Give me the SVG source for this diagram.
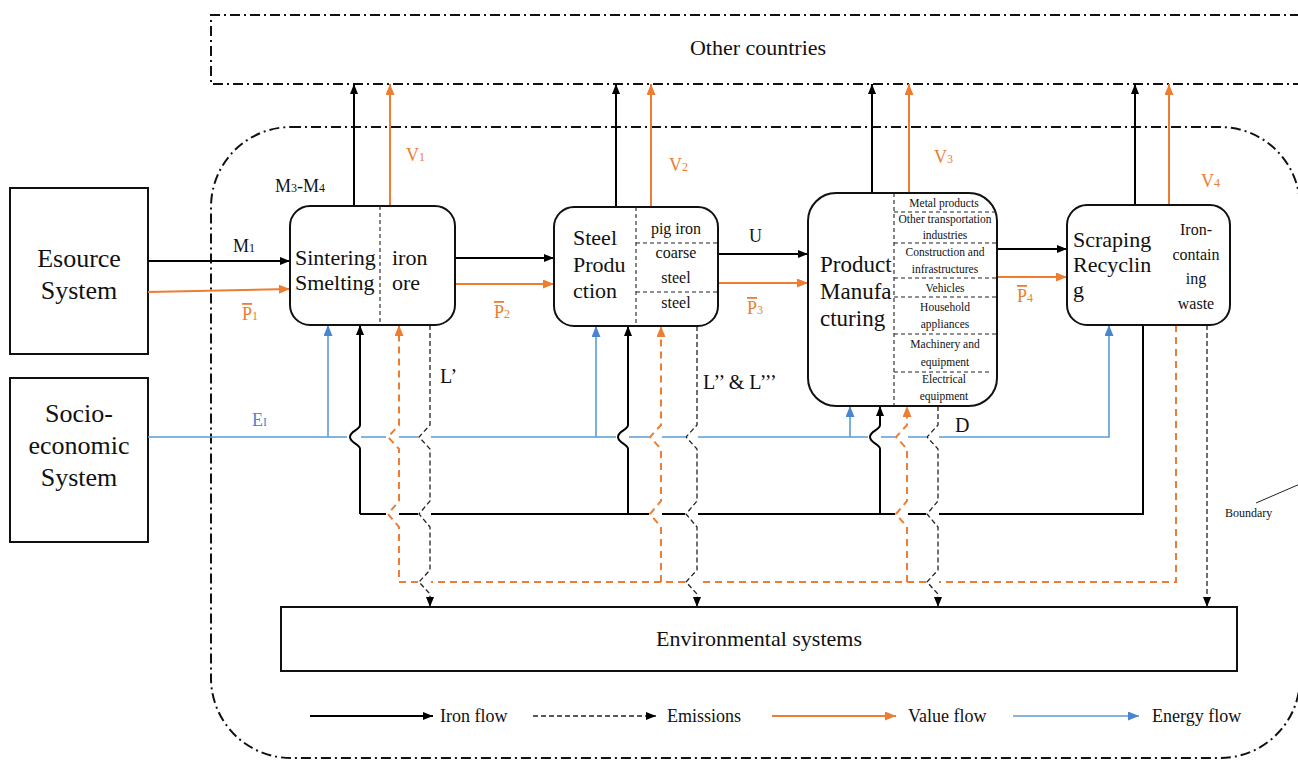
<svg xmlns="http://www.w3.org/2000/svg" width="1298" height="760" viewBox="0 0 1298 760" font-family="Liberation Serif, serif">
  <defs>
    <marker id="ah-k" markerWidth="10" markerHeight="8" refX="10" refY="4" orient="auto" markerUnits="userSpaceOnUse">
      <path d="M0,0 L10,4 L0,8 z" fill="#000"/>
    </marker>
    <marker id="ah-o" markerWidth="11" markerHeight="9" refX="11" refY="4.5" orient="auto" markerUnits="userSpaceOnUse">
      <path d="M0,0 L11,4.5 L0,9 z" fill="#ED7D31"/>
    </marker>
    <marker id="ah-b" markerWidth="11" markerHeight="9" refX="11" refY="4.5" orient="auto" markerUnits="userSpaceOnUse">
      <path d="M0,0 L11,4.5 L0,9 z" fill="#4A86D0"/>
    </marker>
    <style>
      .box { fill: #fff; stroke: #111; stroke-width: 2; }
      .div { fill: none; stroke: #222; stroke-width: 1.1; stroke-dasharray: 4,3; }
      .iron { fill: none; stroke: #000; stroke-width: 2; }
      .value { fill: none; stroke: #ED7D31; stroke-width: 2; }
      .valued { fill: none; stroke: #ED7D31; stroke-width: 2; stroke-dasharray: 7,5; }
      .emis { fill: none; stroke: #222; stroke-width: 1.3; stroke-dasharray: 5,3; }
      .energy { fill: none; stroke: #5B9BD5; stroke-width: 1.6; }
      .dashdot { fill: none; stroke: #111; stroke-width: 2; stroke-dasharray: 10,4,2,4; }
      .t26 { font: 26px "Liberation Serif", serif; fill: #111; }
      .t23 { font: 23px "Liberation Serif", serif; fill: #111; }
      .t22 { font: 22px "Liberation Serif", serif; fill: #111; }
      .t20 { font: 20px "Liberation Serif", serif; fill: #111; }
      .t18 { font: 18px "Liberation Serif", serif; fill: #111; }
      .t16 { font: 16px "Liberation Serif", serif; fill: #111; }
      .t12 { font: 12px "Liberation Serif", serif; fill: #111; }
      .t11 { font: 11.5px "Liberation Serif", serif; fill: #111; }
      .or { fill: #ED7D31; }
      .bl { fill: #4A86D0; }
      .ol { text-decoration: overline; }
    </style>
  </defs>

  <!-- system boundary -->
  <g id="boundary">
    <rect class="dashdot" x="211" y="127" width="1089" height="631" rx="80" ry="80"/>
    <line x1="1256" y1="503" x2="1300" y2="484" stroke="#222" stroke-width="1"/>
    <text class="t12" x="1225" y="517">Boundary</text>
  </g>

  <!-- other countries -->
  <g id="other-countries">
    <path class="dashdot" d="M1300,15 H211 V84 H1300"/>
    <text class="t22" x="758" y="55" text-anchor="middle">Other countries</text>
  </g>

  <!-- external systems -->
  <g id="esource-system">
    <rect class="box" x="10" y="188" width="138" height="166"/>
    <text class="t26" x="79" y="267" text-anchor="middle">Esource</text>
    <text class="t26" x="79" y="299" text-anchor="middle">System</text>
  </g>
  <g id="socio-economic-system">
    <rect class="box" x="10" y="378" width="138" height="164"/>
    <text class="t26" x="79" y="422" text-anchor="middle">Socio-</text>
    <text class="t26" x="79" y="454" text-anchor="middle">economic</text>
    <text class="t26" x="79" y="486" text-anchor="middle">System</text>
  </g>

  <!-- connectors -->
  <g id="connectors">
    <!-- exports to other countries -->
    <path class="iron" d="M354,206 V84" marker-end="url(#ah-k)"/>
    <path class="value" d="M390,206 V84" marker-end="url(#ah-o)"/>
    <path class="iron" d="M616,208 V84" marker-end="url(#ah-k)"/>
    <path class="value" d="M651,208 V84" marker-end="url(#ah-o)"/>
    <path class="iron" d="M872,194 V84" marker-end="url(#ah-k)"/>
    <path class="value" d="M909,194 V84" marker-end="url(#ah-o)"/>
    <path class="iron" d="M1135,206 V84" marker-end="url(#ah-k)"/>
    <path class="value" d="M1169,206 V84" marker-end="url(#ah-o)"/>

    <!-- main chain flows -->
    <path class="iron" d="M148,261 H290" marker-end="url(#ah-k)"/>
    <path class="value" d="M148,292 L290,289" marker-end="url(#ah-o)"/>
    <path class="iron" d="M455,258 H554" marker-end="url(#ah-k)"/>
    <path class="value" d="M455,284 H554" marker-end="url(#ah-o)"/>
    <path class="iron" d="M718,254 H808" marker-end="url(#ah-k)"/>
    <path class="value" d="M718,283 H808" marker-end="url(#ah-o)"/>
    <path class="iron" d="M997,249 H1067" marker-end="url(#ah-k)"/>
    <path class="value" d="M997,277 H1067" marker-end="url(#ah-o)"/>

    <!-- energy input with line jumps -->
    <path class="energy" d="M148,437 H347 M361,437 H386 M399,437 H418 M431,437 H616 M629,437 H649 M662,437 H685 M698,437 H868 M881,437 H895 M908,437 H926 M939,437 H1109 V325" marker-end="url(#ah-b)"/>
    <path class="energy" d="M328,437 V325" marker-end="url(#ah-b)"/>
    <path class="energy" d="M596,437 V326" marker-end="url(#ah-b)"/>
    <path class="energy" d="M850,437 V406" marker-end="url(#ah-b)"/>

    <!-- recycled iron return -->
    <path class="iron" d="M1143,325 V514 H939 M926,514 H908 M895,514 H698 M685,514 H662 M649,514 H431 M418,514 H399 M386,514 H360"/>
    <path class="iron" d="M360,514 V449 C360,444 350,443 350,437 C350,431 360,430 360,425 V325" marker-end="url(#ah-k)"/>
    <path class="iron" d="M628,514 V449 C628,444 618,443 618,437 C618,431 628,430 628,425 V326" marker-end="url(#ah-k)"/>
    <path class="iron" d="M880,514 V449 C880,444 870,443 870,437 C870,431 880,430 880,425 V406" marker-end="url(#ah-k)"/>

    <!-- recycled value return -->
    <path class="valued" d="M1176,325 V582 H939 M926,582 H698 M685,582 H431 M418,582 H399 V527 L388,514 L399,501 V449 L388,437 L399,425 V325" marker-end="url(#ah-o)"/>
    <path class="valued" d="M661,582 V527 L650,514 L661,501 V449 L650,437 L661,425 V326" marker-end="url(#ah-o)"/>
    <path class="valued" d="M907,582 V527 L896,514 L907,501 V449 L896,437 L907,425 V406" marker-end="url(#ah-o)"/>

    <!-- emissions to environment -->
    <path class="emis" d="M430,325 V425 L419,437 L430,449 V501 L419,514 L430,527 V570 L419,582 L430,594 V607" marker-end="url(#ah-k)"/>
    <path class="emis" d="M697,326 V425 L686,437 L697,449 V501 L686,514 L697,527 V570 L686,582 L697,594 V607" marker-end="url(#ah-k)"/>
    <path class="emis" d="M938,406 V425 L927,437 L938,449 V501 L927,514 L938,527 V570 L927,582 L938,594 V607" marker-end="url(#ah-k)"/>
    <path class="emis" d="M1207,325 V607" marker-end="url(#ah-k)"/>

    <!-- flow labels -->
    <text class="t18" x="233" y="252">M<tspan font-size="12">1</tspan></text>
    <text class="t18 or" x="242" y="320"><tspan class="ol">P</tspan><tspan font-size="12">1</tspan></text>
    <text class="t18" x="275" y="192">M<tspan font-size="12">3</tspan>-M<tspan font-size="12">4</tspan></text>
    <text class="t18 or" x="406" y="161">V<tspan font-size="12">1</tspan></text>
    <text class="t18 or" x="494" y="318"><tspan class="ol">P</tspan><tspan font-size="12">2</tspan></text>
    <text class="t18 or" x="669" y="171">V<tspan font-size="12">2</tspan></text>
    <text class="t18" x="749" y="242">U</text>
    <text class="t18 or" x="747" y="314"><tspan class="ol">P</tspan><tspan font-size="12">3</tspan></text>
    <text class="t18 or" x="934" y="163">V<tspan font-size="12">3</tspan></text>
    <text class="t18 or" x="1017" y="302"><tspan class="ol">P</tspan><tspan font-size="12">4</tspan></text>
    <text class="t18 or" x="1201" y="187">V<tspan font-size="12">4</tspan></text>
    <text class="t18 bl" x="252" y="426">E<tspan font-size="12">I</tspan></text>
    <text class="t20" x="440" y="383">L’</text>
    <text class="t20" x="703" y="389">L’’ &amp; L’’’</text>
    <text class="t20" x="955" y="432">D</text>
  </g>

  <!-- process nodes -->
  <g id="sintering-smelting">
    <rect class="box" x="290" y="206" width="165" height="119" rx="20"/>
    <line class="div" x1="380" y1="206" x2="380" y2="325"/>
    <text class="t22" x="295" y="265">Sintering</text>
    <text class="t22" x="295" y="290">Smelting</text>
    <text class="t22" x="392" y="265">iron</text>
    <text class="t22" x="392" y="290">ore</text>
  </g>

  <g id="steel-production">
    <rect class="box" x="554" y="207" width="164" height="119" rx="20"/>
    <line class="div" x1="636" y1="207" x2="636" y2="326"/>
    <line class="div" x1="636" y1="243" x2="718" y2="243"/>
    <line class="div" x1="636" y1="292" x2="718" y2="292"/>
    <text class="t22" x="573" y="245">Steel</text>
    <text class="t22" x="573" y="272">Produ</text>
    <text class="t22" x="573" y="298">ction</text>
    <text class="t16" x="676" y="234" text-anchor="middle">pig iron</text>
    <text class="t16" x="676" y="258" text-anchor="middle">coarse</text>
    <text class="t16" x="676" y="283" text-anchor="middle">steel</text>
    <text class="t16" x="676" y="308" text-anchor="middle">steel</text>
  </g>

  <g id="product-manufacturing">
    <rect class="box" x="808" y="193" width="189" height="213" rx="28"/>
    <line class="div" x1="894" y1="193" x2="894" y2="406"/>
    <line class="div" x1="894" y1="212" x2="996" y2="212"/>
    <line class="div" x1="894" y1="243" x2="997" y2="243"/>
    <line class="div" x1="894" y1="278" x2="997" y2="278"/>
    <line class="div" x1="894" y1="297" x2="997" y2="297"/>
    <line class="div" x1="894" y1="334" x2="997" y2="334"/>
    <line class="div" x1="894" y1="372" x2="992" y2="372"/>
    <text class="t23" x="820" y="272">Product</text>
    <text class="t23" x="820" y="299">Manufa</text>
    <text class="t23" x="820" y="326">cturing</text>
    <text class="t11" x="944" y="207" text-anchor="middle">Metal products</text>
    <text class="t11" x="945" y="223" text-anchor="middle">Other transportation</text>
    <text class="t11" x="945" y="239" text-anchor="middle">industries</text>
    <text class="t11" x="945" y="256" text-anchor="middle">Construction and</text>
    <text class="t11" x="945" y="273" text-anchor="middle">infrastructures</text>
    <text class="t11" x="945" y="292" text-anchor="middle">Vehicles</text>
    <text class="t11" x="945" y="311" text-anchor="middle">Household</text>
    <text class="t11" x="945" y="328" text-anchor="middle">appliances</text>
    <text class="t11" x="945" y="348" text-anchor="middle">Machinery and</text>
    <text class="t11" x="945" y="366" text-anchor="middle">equipment</text>
    <text class="t11" x="944" y="383" text-anchor="middle">Electrical</text>
    <text class="t11" x="944" y="400" text-anchor="middle">equipment</text>
  </g>

  <g id="scraping-recycling">
    <rect class="box" x="1067" y="205" width="163" height="120" rx="20"/>
    <text class="t22" x="1073" y="247">Scraping</text>
    <text class="t22" x="1073" y="272">Recyclin</text>
    <text class="t22" x="1073" y="297">g</text>
    <text class="t16" x="1196" y="235" text-anchor="middle">Iron-</text>
    <text class="t16" x="1196" y="260" text-anchor="middle">contain</text>
    <text class="t16" x="1196" y="284" text-anchor="middle">ing</text>
    <text class="t16" x="1196" y="309" text-anchor="middle">waste</text>
  </g>

  <g id="environmental-systems">
    <rect class="box" x="281" y="607" width="956" height="64"/>
    <text class="t22" x="759" y="646" text-anchor="middle">Environmental systems</text>
  </g>

  <!-- legend -->
  <g id="legend">
    <path class="iron" d="M310,716 H433" marker-end="url(#ah-k)"/>
    <text class="t18" x="440" y="722">Iron flow</text>
    <path class="emis" stroke-width="2" d="M533,716 H656" marker-end="url(#ah-k)"/>
    <text class="t18" x="667" y="722">Emissions</text>
    <path class="value" d="M772,716 H896" marker-end="url(#ah-o)"/>
    <text class="t18" x="908" y="722">Value flow</text>
    <path class="energy" d="M1013,716 H1139" marker-end="url(#ah-b)"/>
    <text class="t18" x="1152" y="722">Energy flow</text>
  </g>
</svg>
